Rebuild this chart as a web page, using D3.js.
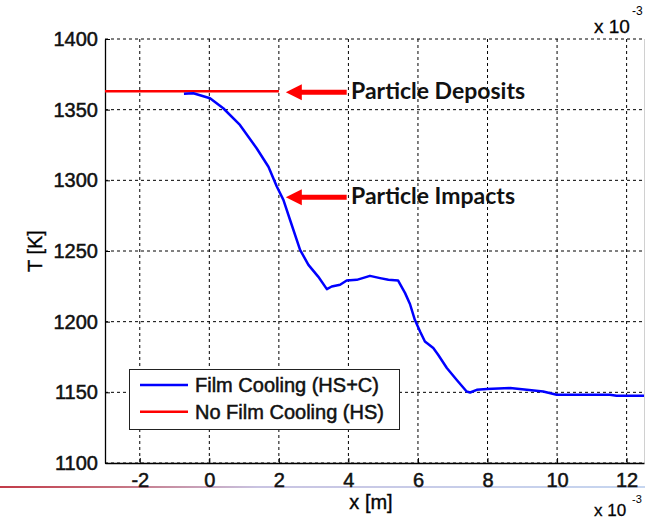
<!DOCTYPE html>
<html>

<head>
  <meta charset="utf-8">
  <title>D3: Film cooling temperature</title>
  <script src="https://cdn.jsdelivr.net/npm/d3@7"></script>
</head>

<body>
  <main id="container"></main>

  <script type="module">
    // x positions are in units of 1e-3 m
    const filmX = [-0.73, -0.46, 0.02, 0.40, 0.88, 1.36, 1.70, 1.94, 2.13, 2.32, 2.61, 2.85, 3.13, 3.38,
      3.52, 3.76, 3.95, 4.24, 4.62, 4.91, 5.15, 5.43, 5.63, 5.77, 5.91, 6.06, 6.20, 6.44, 6.58, 6.83,
      7.11, 7.40, 7.50, 7.69, 7.98, 8.65, 9.13, 9.60, 9.99, 11.52, 11.71, 12.5];
    const filmT = [1361.3, 1361.6, 1358.1, 1351.0, 1339.2, 1322.7, 1309.6, 1295.6, 1286.2, 1272.1, 1250.8, 1240.2, 1231.9, 1223.0,
      1224.9, 1226.1, 1229.1, 1229.6, 1232.4, 1230.8, 1229.6, 1229.1, 1220.2, 1212.5, 1201.3, 1193.0, 1186.0, 1181.3, 1176.6, 1167.2,
      1158.9, 1150.6, 1149.9, 1151.8, 1152.3, 1153.0, 1151.8, 1150.6, 1148.3, 1148.3, 1147.6, 1147.6];

    const noFilmX = [-3, 2];
    const noFilmT = [1363, 1363];

    const xTicks = [-2, 0, 2, 4, 6, 8, 10, 12];
    const yTicks = [1100, 1150, 1200, 1250, 1300, 1350, 1400];

    const seriesNames = ["Film Cooling (HS+C)", "No Film Cooling (HS)"];
    const seriesColors = ["#0000ff", "#ff0000"];

    // annotations: label and the T level the arrow points at
    const noteLabels = ["Particle Deposits", "Particle Impacts"];
    const noteT = [1362.3, 1288];

    const width = 652;
    const height = 520;
    const left = 105, right = 644, top = 39, bottom = 463;
    const labelFont = "Arial, 'Liberation Sans', sans-serif";

    const svg = d3.select("#container")
      .append("svg")
      .attr("width", width)
      .attr("height", height);

    const x = d3.scaleLinear().domain([-3, 12.5]).range([left, right]);
    const y = d3.scaleLinear().domain([1100, 1400]).range([bottom, top]);

    // slide decoration under the chart
    const grad = svg.append("defs").append("linearGradient")
      .attr("id", "deco").attr("x1", "0%").attr("x2", "100%");
    grad.append("stop").attr("offset", "0%").attr("stop-color", "#c23a48");
    grad.append("stop").attr("offset", "18%").attr("stop-color", "#c6707e");
    grad.append("stop").attr("offset", "40%").attr("stop-color", "#c9c4e2");
    grad.append("stop").attr("offset", "100%").attr("stop-color", "#c6d6f0");
    svg.append("rect")
      .attr("x", 0).attr("y", 486).attr("width", 645).attr("height", 2)
      .attr("fill", "url(#deco)");

    // grid
    const grid = svg.append("g")
      .attr("stroke", "#000")
      .attr("stroke-width", 1)
      .attr("stroke-dasharray", "3,3");
    grid.selectAll(".gx")
      .data(xTicks)
      .join("line")
      .attr("x1", d => x(d)).attr("x2", d => x(d))
      .attr("y1", top).attr("y2", bottom);
    grid.selectAll(".gy")
      .data(yTicks)
      .join("line")
      .attr("x1", left).attr("x2", right)
      .attr("y1", d => y(d)).attr("y2", d => y(d));

    // right edge
    svg.append("line")
      .attr("x1", right + 0.5).attr("x2", right + 0.5)
      .attr("y1", top).attr("y2", bottom)
      .attr("stroke", "#d0d0d0");

    // axes
    const axisX = svg.append("g")
      .attr("transform", `translate(0,${bottom})`)
      .call(d3.axisBottom(x).tickValues(xTicks).tickFormat(d => String(d))
        .tickSizeInner(-5).tickSizeOuter(0).tickPadding(10));
    const axisY = svg.append("g")
      .attr("transform", `translate(${left},0)`)
      .call(d3.axisLeft(y).tickValues(yTicks).tickFormat(d => String(d))
        .tickSizeInner(-5).tickSizeOuter(0).tickPadding(7));

    [axisX, axisY].forEach(a => {
      a.select(".domain").attr("stroke", "#000").attr("stroke-width", 1.3);
      a.selectAll(".tick line").attr("stroke", "#000");
      a.selectAll("text")
        .attr("fill", "#111")
        .attr("stroke", "#111")
        .attr("stroke-width", 0.5)
        .style("font-family", labelFont)
        .style("font-size", "20px");
    });

    // lines
    const line = d3.line().x(d => x(d[0])).y(d => y(d[1]));

    svg.append("path")
      .datum(noFilmX.map((v, i) => [v, noFilmT[i]]))
      .attr("d", line)
      .attr("fill", "none")
      .attr("stroke", seriesColors[1])
      .attr("stroke-width", 2.5);

    svg.append("path")
      .datum(filmX.map((v, i) => [v, filmT[i]]))
      .attr("d", line)
      .attr("fill", "none")
      .attr("stroke", seriesColors[0])
      .attr("stroke-width", 2.5)
      .attr("stroke-linejoin", "round");

    // arrows and labels
    const arrows = svg.append("g");
    noteLabels.forEach((label, i) => {
      const ay = y(noteT[i]);
      const tip = x(2.2);
      arrows.append("line")
        .attr("x1", tip + 12).attr("x2", x(3.95))
        .attr("y1", ay).attr("y2", ay)
        .attr("stroke", "#ff0000").attr("stroke-width", 5);
      arrows.append("path")
        .attr("d", `M${tip},${ay} L${tip + 16},${ay - 8} L${tip + 16},${ay + 8} Z`)
        .attr("fill", "#ff0000");
      arrows.append("text")
        .attr("x", 351)
        .attr("y", ay + 7)
        .text(label)
        .style("font-family", "Lato, 'Open Sans', sans-serif")
        .style("font-weight", "bold")
        .style("font-size", "23px")
        .attr("fill", "#111");
    });

    // axis labels
    svg.append("text")
      .attr("x", 371).attr("y", 509)
      .attr("text-anchor", "middle")
      .attr("stroke", "#111").attr("stroke-width", 0.4)
      .style("font-family", labelFont).style("font-size", "20px")
      .text("x [m]");
    svg.append("text")
      .attr("transform", `translate(42,${(top + bottom) / 2}) rotate(-90)`)
      .attr("text-anchor", "middle")
      .attr("stroke", "#111").attr("stroke-width", 0.4)
      .style("font-family", labelFont).style("font-size", "20px")
      .text("T [K]");

    // exponent labels
    [[33, 15, 19, 12], [516, 503, 17, 11]].forEach(([base, sup, fs, ss]) => {
      svg.append("text")
        .attr("x", 594).attr("y", base)
        .attr("stroke", "#111").attr("stroke-width", 0.3)
        .style("font-family", labelFont).style("font-size", fs + "px")
        .text("x 10");
      svg.append("text")
        .attr("x", 632).attr("y", sup)
        .style("font-family", labelFont).style("font-size", ss + "px")
        .text("-3");
    });

    // legend
    const legend = svg.append("g");
    legend.append("rect")
      .attr("x", 129.5).attr("y", 369.5).attr("width", 270).attr("height", 60)
      .attr("fill", "#fff").attr("stroke", "#222").attr("stroke-width", 1);
    seriesNames.forEach((name, i) => {
      const ly = 385 + i * 26.7;
      legend.append("line")
        .attr("x1", 140).attr("x2", 188)
        .attr("y1", ly).attr("y2", ly)
        .attr("stroke", seriesColors[i]).attr("stroke-width", 2.5);
      legend.append("text")
        .attr("x", 195).attr("y", ly + 7)
        .attr("stroke", "#111").attr("stroke-width", 0.5)
        .style("font-family", labelFont).style("font-size", "20px")
        .attr("fill", "#111")
        .text(name);
    });
  </script>

  <style>
    body {
      margin: 0;
    }
  </style>

</body>

</html>
